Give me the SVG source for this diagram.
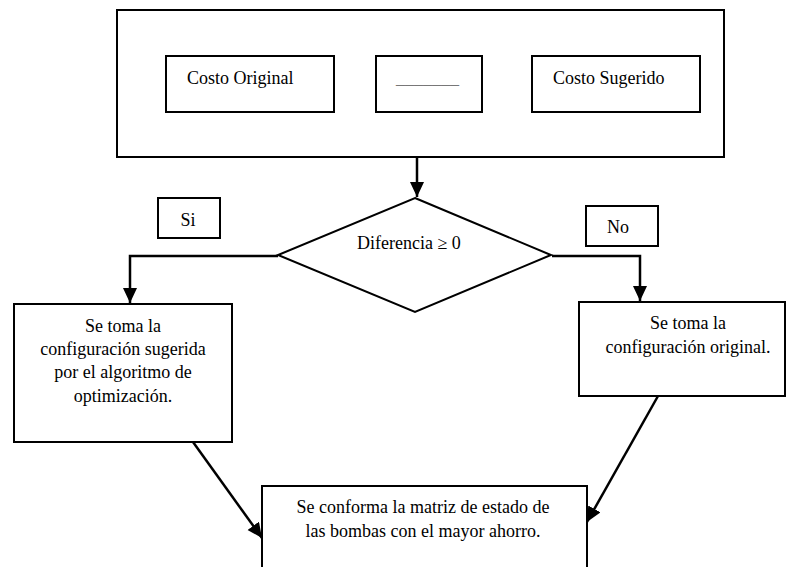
<svg xmlns="http://www.w3.org/2000/svg" width="788" height="567" viewBox="0 0 788 567">
  <style>
    .box { fill: #fff; stroke: #000; stroke-width: 2; }
    .lbl { font-family: "Liberation Serif", "Times New Roman", serif; font-size: 18px; fill: #000; }
    .mid { text-anchor: middle; }
    .edge { fill: none; stroke: #000; stroke-width: 2.5; }
  </style>
  <defs>
    <marker id="arrow" markerUnits="userSpaceOnUse" markerWidth="16" markerHeight="16" refX="15" refY="7" orient="auto">
      <path d="M0,0 L15,7 L0,14 z" fill="#000"/>
    </marker>
  </defs>
  <rect width="788" height="567" fill="#fff"/>

  <g id="cost-compare">
    <rect class="box" x="117" y="10" width="607" height="147"/>
    <g id="cost-original">
      <rect class="box" x="166" y="56" width="168" height="56"/>
      <text class="lbl" x="187" y="84">Costo Original</text>
    </g>
    <g id="cost-diff">
      <rect class="box" x="376" y="56" width="106" height="56"/>
      <text class="lbl" x="396" y="84" fill="#777" style="fill:#777">_______</text>
    </g>
    <g id="cost-suggested">
      <rect class="box" x="532" y="56" width="168" height="56"/>
      <text class="lbl" x="553" y="84">Costo Sugerido</text>
    </g>
  </g>

  <g id="decision">
    <polygon class="box" points="415,198 551,255 415,312 278,255"/>
    <text class="lbl" x="357" y="249">Diferencia ≥ 0</text>
  </g>

  <g id="label-si">
    <rect class="box" x="158" y="198" width="62" height="40"/>
    <text class="lbl mid" x="188" y="226">Si</text>
  </g>

  <g id="label-no">
    <rect class="box" x="586" y="206" width="72" height="40"/>
    <text class="lbl" x="607" y="233">No</text>
  </g>

  <g id="take-suggested">
    <rect class="box" x="14" y="304" width="218" height="138"/>
    <text class="lbl mid" x="123" y="332">Se toma la</text>
    <text class="lbl mid" x="123" y="355">configuración sugerida</text>
    <text class="lbl mid" x="123" y="378">por el algoritmo de</text>
    <text class="lbl mid" x="123" y="402">optimización.</text>
  </g>

  <g id="take-original">
    <rect class="box" x="579" y="302" width="206" height="94"/>
    <text class="lbl mid" x="688" y="329">Se toma la</text>
    <text class="lbl mid" x="688" y="353">configuración original.</text>
  </g>

  <g id="state-matrix">
    <rect class="box" x="262" y="486" width="325" height="100"/>
    <text class="lbl mid" x="423" y="513">Se conforma la matriz de estado de</text>
    <text class="lbl mid" x="423" y="537">las bombas con el mayor ahorro.</text>
  </g>

  <g id="connectors">
    <line class="edge" x1="417" y1="157" x2="417" y2="197" marker-end="url(#arrow)"/>
    <polyline class="edge" points="278,256 130,256 130,303" marker-end="url(#arrow)"/>
    <polyline class="edge" points="552,256 640,256 640,301" marker-end="url(#arrow)"/>
    <line class="edge" x1="193" y1="442" x2="262" y2="538" marker-end="url(#arrow)"/>
    <line class="edge" x1="658" y1="396" x2="587" y2="522" marker-end="url(#arrow)"/>
  </g>
</svg>
